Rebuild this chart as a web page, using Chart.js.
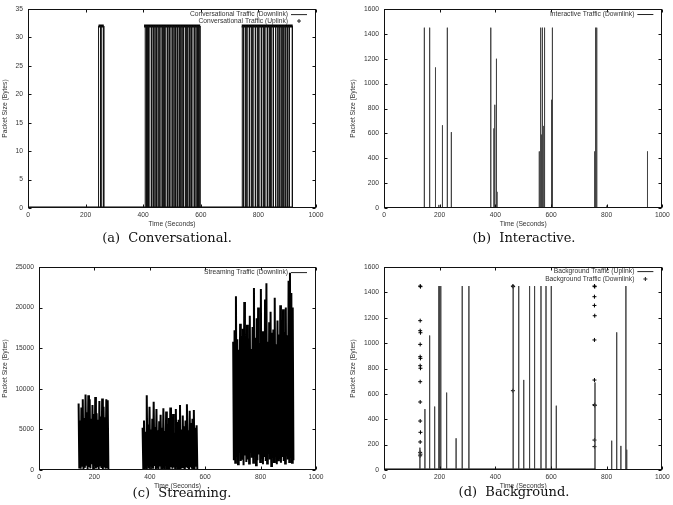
<!DOCTYPE html>
<html>
<head>
<meta charset="utf-8">
<script src="https://cdn.jsdelivr.net/npm/chart.js@4.4.1/dist/chart.umd.min.js"></script>
<style>
    body { margin: 0; background: #fff; width: 673px; height: 505px; position: relative; overflow: hidden; }
    canvas { position: absolute; }
    .caption { position: absolute; width: 220px; text-align: center; font: 13px "DejaVu Serif", serif; line-height: 18px; color: #111; white-space: pre; }
</style>
</head>
<body>
<canvas id="conversational-chart" width="336" height="232" style="left:0;top:0"></canvas>
<canvas id="interactive-chart" width="337" height="232" style="left:336px;top:0"></canvas>
<canvas id="streaming-chart" width="336" height="249" style="left:0;top:245px"></canvas>
<canvas id="background-chart" width="337" height="249" style="left:336px;top:245px"></canvas>
<div class="caption" style="left:57px;top:229px">(a)  Conversational.</div>
<div class="caption" style="left:414px;top:229px">(b)  Interactive.</div>
<div class="caption" style="left:72px;top:484px">(c)  Streaming.</div>
<div class="caption" style="left:404px;top:483px">(d)  Background.</div>
<script>
// tick labels
const timeTicks = [0, 200, 400, 600, 800, 1000];
const convTicks = [0, 5, 10, 15, 20, 25, 30, 35];
const interTicks = [0, 200, 400, 600, 800, 1000, 1200, 1400, 1600];
const streamTicks = [0, 5000, 10000, 15000, 20000, 25000];
const bgTicks = [0, 200, 400, 600, 800, 1000, 1200, 1400, 1600];

// (a) conversational: downlink on-periods at 32 bytes, uplink bands [from, to, size]
const convLevel = 32;
const convDownBursts = [[245, 252], [256, 263], [407, 411], [415, 418], [423, 429], [434, 437], [442, 446], [451, 455], [459, 466], [470, 473], [478, 484], [489, 492], [497, 503], [508, 512], [517, 520], [526, 531], [536, 540], [546, 549], [554, 560], [565, 568], [573, 579], [584, 588], [592, 597], [744, 748], [754, 757], [763, 769], [775, 778], [784, 790], [796, 799], [805, 811], [817, 820], [826, 832], [838, 841], [846, 852], [858, 861], [866, 872], [878, 882], [887, 893], [899, 902], [908, 918]];
const convUpBands = [[0, 918, 0], [245, 263, 32], [403, 598, 32], [742, 919, 32]];

// (b) interactive downlink packets
const interTimes = [145, 164, 185, 197, 210, 227, 228, 242, 383, 384, 395, 398, 404, 406, 558, 561, 564, 566, 568, 570, 572, 575, 578, 600, 603, 605, 757, 759, 761, 763, 765, 801, 946, 947];
const interSizes = [1450, 1450, 1130, 25, 665, 1450, 1170, 610, 1450, 450, 640, 830, 1200, 130, 455, 1450, 1450, 590, 880, 1450, 660, 1450, 1450, 20, 870, 1450, 455, 1450, 630, 540, 1450, 20, 455, 110];

// (c) streaming downlink, three sessions sampled every 2.5 s
const streamStarts = [143, 374, 701];
const streamStep = 2.5;
const streamSeg1 = [8200, 300, 6100, 150, 7700, 520, 8700, 90, 6400, 260, 9300, 640, 7100, 120, 9200, 380, 8700, 200, 6300, 700, 8000, 60, 6900, 450, 9000, 180, 7000, 330, 6200, 90, 8500, 560, 6600, 240, 8800, 110, 7800, 420, 6500, 170, 8700, 350, 8600, 130];
const streamSeg2 = [5200, 120, 6100, 300, 4700, 80, 9200, 450, 5600, 200, 7800, 60, 5000, 350, 6300, 150, 8400, 500, 5300, 90, 7500, 280, 4900, 140, 6000, 420, 6800, 70, 5200, 310, 7600, 180, 4800, 480, 7200, 100, 5700, 260, 6400, 50, 7700, 380, 5100, 160, 6900, 300, 4600, 90, 7500, 440, 5900, 130, 6200, 230, 8000, 70, 5000, 360, 6700, 190, 5400, 110, 6100, 470, 8100, 210, 4900, 80, 7300, 330, 5800, 150, 6300, 260, 7400, 60, 5200, 400, 5500, 120];
const streamSeg3 = [15800, 1200, 17200, 900, 21400, 1600, 16100, 700, 14800, 2100, 18000, 1100, 16500, 1400, 17400, 600, 20700, 1800, 15300, 1000, 17900, 1300, 16200, 800, 19000, 2200, 14900, 1500, 17600, 900, 22400, 1700, 16300, 600, 18700, 1200, 20000, 1900, 15600, 1000, 22300, 1400, 17100, 700, 16400, 1600, 21000, 1100, 23000, 800, 15800, 2000, 18200, 1300, 19500, 500, 16900, 1500, 17300, 1000, 21200, 1800, 15500, 700, 18400, 1200, 16700, 1400, 20300, 900, 15900, 1600, 19800, 1100, 17000, 800, 20000, 1700, 16600, 1300, 23300, 1000, 24300, 1500, 21800, 900, 20000, 1200];

// (d) background: uplink packets (line) and downlink packets (points)
const bgUpTimes = [129, 147, 164, 182, 197, 200, 204, 225, 259, 281, 305, 464, 484, 502, 523, 541, 564, 582, 601, 619, 758, 818, 836, 851, 869, 872];
const bgUpSizes = [176, 480, 1060, 500, 1450, 1450, 1450, 610, 250, 1450, 1450, 1450, 1450, 710, 1450, 1450, 1450, 1450, 1450, 507, 690, 231, 1085, 190, 1450, 160];
const bgDownTimes = [130, 131, 130, 130, 131, 130, 130, 131, 130, 131, 130, 130, 130, 131, 130, 130, 131, 130, 463, 464, 463, 756, 757, 756, 756, 757, 756, 756, 756, 757, 756, 756];
const bgDownSizes = [1450, 1445, 1177, 1098, 1082, 990, 893, 880, 822, 802, 696, 536, 386, 297, 221, 139, 125, 112, 1450, 1445, 625, 1450, 1445, 1366, 1297, 1216, 1025, 709, 515, 508, 236, 184];
const bgDownZeroSpan = [0, 757];

const FONT = { family: '"Liberation Sans", Arial, sans-serif', size: 6.7 };
const TEXT = '#333';
const SPIKE = '#444';

// border, inward mirrored ticks and gnuplot style key
const gnuplotFrame = {
    id: 'gnuplotFrame',
    afterDraw(chart, args, opts) {
        const ctx = chart.ctx;
        const area = chart.chartArea;
        const xScale = chart.scales.x;
        const yScale = chart.scales.y;
        const l = Math.round(area.left) + 0.5, r = Math.round(area.right) - 0.5;
        const t = Math.round(area.top) + 0.5, b = Math.round(area.bottom) - 0.5;
        ctx.save();
        ctx.strokeStyle = '#111';
        ctx.lineWidth = 1;
        ctx.strokeRect(l, t, r - l, b - t);
        ctx.beginPath();
        xScale.ticks.forEach(tick => {
            const px = Math.round(xScale.getPixelForValue(tick.value)) + 0.5;
            ctx.moveTo(px, b); ctx.lineTo(px, b - 3);
            ctx.moveTo(px, t); ctx.lineTo(px, t + 3);
        });
        yScale.ticks.forEach(tick => {
            const py = Math.round(yScale.getPixelForValue(tick.value)) + 0.5;
            ctx.moveTo(l, py); ctx.lineTo(l + 3, py);
            ctx.moveTo(r, py); ctx.lineTo(r - 3, py);
        });
        ctx.stroke();

        ctx.font = FONT.size + 'px ' + FONT.family;
        ctx.fillStyle = TEXT;
        ctx.textAlign = 'right';
        ctx.textBaseline = 'middle';
        chart.data.datasets.forEach((ds, i) => {
            if (!ds.label) return;
            const y = area.top + opts.keyTop + i * opts.keyGap;
            ctx.fillText(ds.label, area.right - 28, y);
            ctx.strokeStyle = '#222';
            ctx.beginPath();
            if (ds.keyStyle === 'cross') {
                ctx.moveTo(area.right - 19, y); ctx.lineTo(area.right - 15, y);
                ctx.moveTo(area.right - 17, y - 2); ctx.lineTo(area.right - 17, y + 2);
            } else {
                ctx.moveTo(area.right - 25, y); ctx.lineTo(area.right - 9, y);
            }
            ctx.stroke();
        });
        ctx.restore();
    }
};

function panelOptions(yMax, yTicks, yWidth, titlePad, pad, keyTop, keyGap) {
    return {
        responsive: false,
        animation: false,
        devicePixelRatio: 1,
        layout: { padding: pad },
        plugins: {
            legend: { display: false },
            tooltip: { enabled: false },
            gnuplotFrame: { keyTop: keyTop, keyGap: keyGap }
        },
        scales: {
            x: {
                type: 'linear',
                min: 0,
                max: 1000,
                grid: { display: false, drawTicks: false },
                border: { display: false },
                afterBuildTicks: s => { s.ticks = timeTicks.map(v => ({ value: v })); },
                afterFit: s => { s.height = 24; },
                ticks: { font: FONT, color: TEXT, padding: 3.2, maxRotation: 0, autoSkip: false, callback: v => String(v) },
                title: { display: true, text: 'Time (Seconds)', font: FONT, color: TEXT, padding: { top: 0, bottom: 3.6 } }
            },
            y: {
                type: 'linear',
                min: 0,
                max: yMax,
                grid: { display: false, drawTicks: false },
                border: { display: false },
                afterBuildTicks: s => { s.ticks = yTicks.map(v => ({ value: v })); },
                afterFit: s => { s.width = yWidth; },
                ticks: { font: FONT, color: TEXT, padding: 5, autoSkip: false, callback: v => String(v) },
                title: { display: true, text: 'Packet Size (Bytes)', font: FONT, color: TEXT, padding: { top: titlePad, bottom: 0 } }
            }
        }
    };
}

// -- conversational --
const convDown = [{ x: 0, y: 0 }];
convDownBursts.forEach(([a, b]) => {
    convDown.push({ x: a, y: 0 }, { x: a, y: convLevel }, { x: b, y: convLevel }, { x: b, y: 0 });
});
convDown.push({ x: 918, y: 0 });
const convUp = [];
convUpBands.forEach(([a, b, v]) => {
    convUp.push({ x: a, y: v }, { x: b, y: v }, { x: b, y: null });
});

new Chart(document.getElementById('conversational-chart'), {
    type: 'line',
    data: {
        datasets: [{
            label: 'Conversational Traffic (Downlink)',
            keyStyle: 'line',
            data: convDown,
            borderColor: '#111',
            borderWidth: 1,
            pointRadius: 0
        }, {
            label: 'Conversational Traffic (Uplink)',
            keyStyle: 'cross',
            data: convUp,
            borderColor: '#000',
            borderWidth: 3,
            pointRadius: 0
        }]
    },
    options: panelOptions(35, convTicks, 28, 1.2, { left: 0, top: 5, right: 20, bottom: 0 }, 5.6, 6.4),
    plugins: [gnuplotFrame]
});

// -- interactive --
function spikeLine(times, sizes) {
    const pts = [{ x: 0, y: 0 }];
    times.forEach((t, i) => {
        pts.push({ x: t, y: 0 }, { x: t, y: sizes[i] }, { x: t, y: 0 });
    });
    pts.push({ x: 1000, y: 0 });
    return pts;
}

new Chart(document.getElementById('interactive-chart'), {
    type: 'line',
    data: {
        datasets: [{
            label: 'Interactive Traffic (Downlink)',
            keyStyle: 'line',
            data: spikeLine(interTimes, interSizes),
            borderColor: SPIKE,
            borderWidth: 1,
            pointRadius: 0
        }]
    },
    options: panelOptions(1600, interTicks, 48, 12.7, { left: 0, top: 5, right: 8, bottom: 0 }, 5.5, 6.5),
    plugins: [gnuplotFrame]
});

// -- streaming --
const streamData = [];
[streamSeg1, streamSeg2, streamSeg3].forEach((seg, k) => {
    seg.forEach((v, i) => streamData.push({ x: streamStarts[k] + i * streamStep, y: v }));
    streamData.push({ x: streamStarts[k] + seg.length * streamStep, y: null });
});

new Chart(document.getElementById('streaming-chart'), {
    type: 'line',
    data: {
        datasets: [{
            label: 'Streaming Traffic (Downlink)',
            keyStyle: 'line',
            data: streamData,
            borderColor: '#000',
            borderWidth: 2,
            pointRadius: 0
        }]
    },
    options: panelOptions(25000, streamTicks, 39, 1.2, { left: 0, top: 22, right: 20, bottom: 0 }, 5.6, 6.5),
    plugins: [gnuplotFrame]
});

// -- background --
const bgDown = [{ x: bgDownZeroSpan[0], y: 0 }, { x: bgDownZeroSpan[1], y: 0 }, { x: bgDownZeroSpan[1], y: null }];
bgDownTimes.forEach((t, i) => {
    bgDown.push({ x: t, y: bgDownSizes[i] }, { x: t, y: null });
});

new Chart(document.getElementById('background-chart'), {
    type: 'line',
    data: {
        datasets: [{
            label: 'Background Traffic (Uplink)',
            keyStyle: 'line',
            data: spikeLine(bgUpTimes, bgUpSizes),
            borderColor: SPIKE,
            borderWidth: 1,
            pointRadius: 0
        }, {
            label: 'Background Traffic (Downlink)',
            keyStyle: 'cross',
            data: bgDown,
            borderColor: '#000',
            borderWidth: 3,
            pointStyle: 'cross',
            pointRadius: 2,
            pointBorderWidth: 1,
            pointBorderColor: '#000'
        }]
    },
    options: panelOptions(1600, bgTicks, 48, 12.7, { left: 0, top: 22, right: 10, bottom: 0 }, 4.6, 7.4),
    plugins: [gnuplotFrame]
});
</script>
</body>
</html>
